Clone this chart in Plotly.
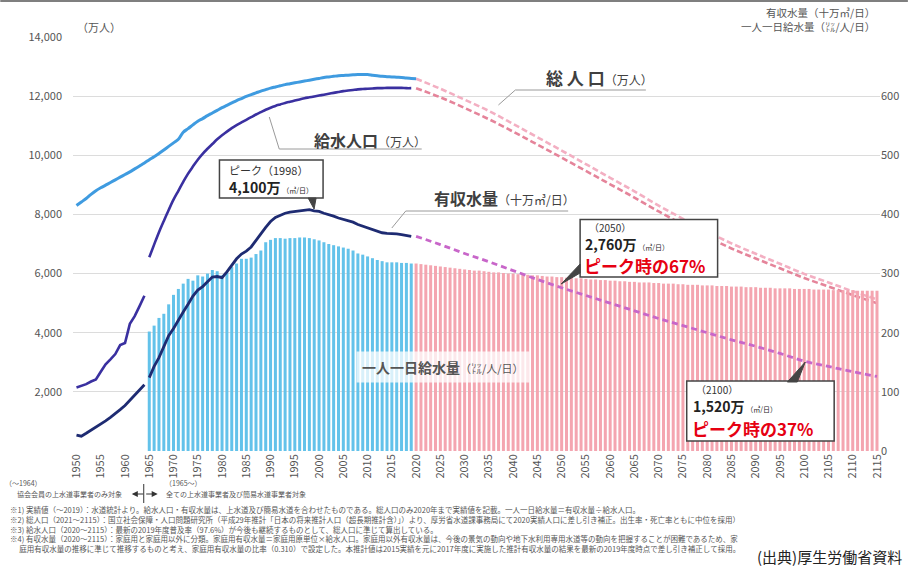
import plotly.graph_objects as go

# ---------------- data ----------------
years_pre = list(range(1950, 1965))
supply_pop_pre = [2150, 2200, 2260, 2350, 2420, 2680, 2930, 3100, 3280, 3580,
                  3650, 4300, 4560, 4900, 5250]
revenue_water_pre = [27, 25, 30, 35, 41, 46, 51, 57, 63, 70,
                     77, 86, 95, 103, 112]

years_total_actual = list(range(1950, 2021))
total_pop_actual = [8300, 8420, 8540, 8680, 8800, 8900, 8990, 9080, 9170, 9260,
                    9350, 9440, 9540, 9640, 9740, 9850, 9950, 10060, 10180, 10300,
                    10420, 10540, 10780, 10900, 11030, 11150, 11240, 11340, 11430, 11520,
                    11610, 11690, 11770, 11850, 11920, 11990, 12050, 12110, 12170, 12220,
                    12270, 12310, 12350, 12390, 12420, 12450, 12480, 12510, 12540, 12570,
                    12600, 12630, 12650, 12670, 12690, 12700, 12710, 12720, 12730, 12730,
                    12730, 12710, 12690, 12670, 12660, 12650, 12640, 12630, 12610, 12600,
                    12590]

years_actual = list(range(1965, 2020))
supply_pop_actual = [6550, 6980, 7400, 7780, 8150, 8500, 8800, 9100, 9380, 9620,
                     9850, 10050, 10220, 10380, 10540, 10680, 10800, 10920, 11020, 11110,
                     11200, 11290, 11380, 11460, 11540, 11610, 11670, 11720, 11770, 11810,
                     11850, 11890, 11930, 11960, 11990, 12020, 12050, 12080, 12110, 12140,
                     12170, 12190, 12210, 12230, 12240, 12250, 12260, 12270, 12270, 12280,
                     12280, 12280, 12280, 12270, 12270]
revenue_water_actual = [124, 143, 158, 178, 195, 207, 222, 235, 248, 262,
                        272, 278, 286, 294, 295, 293, 303, 315, 325, 333,
                        338, 345, 355, 367, 378, 388, 395, 399, 402, 404,
                        405, 406, 407, 408, 406, 405, 402, 400, 397, 394,
                        392, 390, 387, 383, 380, 377, 374, 371, 369, 368,
                        368, 367, 366, 364, 363]
per_capita_actual = [202, 212, 225, 232, 248, 264, 274, 283, 291, 288,
                     297, 295, 300, 306, 304, 297, 302, 311, 317, 325,
                     325, 327, 333, 339, 353, 357, 360, 360, 359, 360,
                     360, 361, 361, 360, 358, 356, 353, 350, 348, 346,
                     344, 342, 339, 334, 332, 329, 326, 323, 321, 319,
                     319, 319, 318, 318, 317]

years_proj = list(range(2020, 2116, 5))
total_pop_proj = [12590, 12250, 11880, 11500, 11060, 10610, 10160, 9700, 9240, 8780,
                  8300, 7850, 7420, 7020, 6670, 6330, 5990, 5700, 5400, 5130]
supply_pop_proj = [12270, 11960, 11600, 11220, 10800, 10360, 9920, 9470, 9020, 8570,
                   8100, 7660, 7240, 6850, 6510, 6180, 5850, 5560, 5270, 5000]
revenue_water_proj = [363, 349, 334, 320, 305, 290, 276, 263, 250, 237,
                      224, 212, 200, 188, 177, 165, 152, 143, 134, 126]

years_bar_proj = list(range(2020, 2116))
per_capita_proj = [317, 316, 315, 314, 313, 312, 311, 310, 309, 308,
                   307, 306, 305, 305, 304, 303, 302, 302, 301, 300,
                   300, 299, 298, 298, 297, 297, 296, 295, 295, 294,
                   294, 293, 293, 292, 292, 291, 290, 290, 289, 289,
                   288, 288, 287, 287, 286, 286, 285, 285, 285, 284,
                   284, 283, 283, 283, 282, 282, 281, 281, 281, 280,
                   280, 280, 279, 279, 279, 278, 278, 278, 277, 277,
                   277, 276, 276, 276, 275, 275, 275, 275, 274, 274,
                   274, 274, 273, 273, 273, 273, 272, 272, 272, 272,
                   272, 271, 271, 271, 271, 271]

left_ticks = [2000, 4000, 6000, 8000, 10000, 12000, 14000]
left_ticktext = ["2,000", "4,000", "6,000", "8,000", "10,000", "12,000", "14,000"]
right_ticks = [0, 100, 200, 300, 400, 500, 600]
x_ticks = list(range(1950, 2116, 5))

# ---------------- figure ----------------
FONT = "Noto Sans CJK JP, Noto Sans, sans-serif"
W, H = 911, 568
L, R, T, B = 73, 883, 37, 451


def px(x):
    return (x - L) / (R - L)


def py(y):
    return (B - y) / (B - T)


fig = go.Figure()

fig.add_trace(go.Bar(x=years_actual, y=per_capita_actual, yaxis="y2",
                     marker=dict(color="#63c2ea", line=dict(width=0)), width=0.62))
fig.add_trace(go.Bar(x=years_bar_proj, y=per_capita_proj, yaxis="y2",
                     marker=dict(color="#f4a5b0", line=dict(width=0)), width=0.62))

# projections
fig.add_trace(go.Scatter(x=years_proj, y=total_pop_proj, mode="lines",
                         line=dict(color="#f3afc2", width=2.6, dash="6px,3px", shape="spline")))
fig.add_trace(go.Scatter(x=years_proj, y=supply_pop_proj, mode="lines",
                         line=dict(color="#e5849a", width=2.6, dash="6px,3px", shape="spline")))
fig.add_trace(go.Scatter(x=years_proj, y=revenue_water_proj, mode="lines", yaxis="y2",
                         line=dict(color="#c866c9", width=2.8, dash="6px,4px", shape="spline")))

# actuals
fig.add_trace(go.Scatter(x=years_total_actual, y=total_pop_actual, mode="lines",
                         line=dict(color="#3f9be0", width=3, shape="spline")))
fig.add_trace(go.Scatter(x=years_pre, y=supply_pop_pre, mode="lines",
                         line=dict(color="#3a30a0", width=2.6)))
fig.add_trace(go.Scatter(x=years_actual, y=supply_pop_actual, mode="lines",
                         line=dict(color="#3a30a0", width=2.6, shape="spline")))
fig.add_trace(go.Scatter(x=years_pre, y=revenue_water_pre, mode="lines", yaxis="y2",
                         line=dict(color="#1e2b72", width=2.8)))
fig.add_trace(go.Scatter(x=years_actual, y=revenue_water_actual, mode="lines", yaxis="y2",
                         line=dict(color="#1e2b72", width=2.8)))

fig.update_layout(
    width=W, height=H,
    margin=dict(l=L, r=W - R, t=T, b=H - B),
    plot_bgcolor="white", paper_bgcolor="white",
    showlegend=False, barmode="overlay",
    font=dict(family=FONT, color="#555555", size=11),
    xaxis=dict(range=[1949.28, 2115.62], tickvals=x_ticks, tickangle=-90,
               showgrid=False, zeroline=False, showline=False, ticks="",
               tickfont=dict(size=11, color="#555555")),
    yaxis=dict(range=[0, 14000], tickvals=left_ticks, ticktext=left_ticktext,
               showgrid=True, gridcolor="#dcdcdc", gridwidth=1, zeroline=False,
               showline=False, ticks="", ticklabelstandoff=10,
               tickfont=dict(size=11, color="#555555")),
    yaxis2=dict(range=[0, 700], tickvals=right_ticks, overlaying="y", side="right",
                showgrid=False, zeroline=False, showline=False, ticks="",
                tickfont=dict(size=11, color="#555555")),
)

shapes = []
ann = []


def text(x, y, t, size, color="#404040", xanchor="left", yanchor="middle", **kw):
    d = dict(xref="paper", yref="paper", x=px(x), y=py(y), text=t, showarrow=False,
             xanchor=xanchor, yanchor=yanchor, font=dict(size=size, color=color, family=FONT))
    d.update(kw)
    ann.append(d)


def line(x0, y0, x1, y1, color="#9a9a9a", width=1):
    shapes.append(dict(type="line", xref="paper", yref="paper",
                       x0=px(x0), y0=py(y0), x1=px(x1), y1=py(y1),
                       line=dict(color=color, width=width)))


def wedge(pts, color="#444444"):
    path = "M " + " L ".join(f"{px(a)},{py(b)}" for a, b in pts) + " Z"
    shapes.append(dict(type="path", xref="paper", yref="paper", path=path,
                       fillcolor=color, line=dict(color=color, width=1)))


def box(x0, y0, x1, y1):
    shapes.append(dict(type="rect", xref="paper", yref="paper",
                       x0=px(x0), y0=py(y1), x1=px(x1), y1=py(y0),
                       fillcolor="white", line=dict(color="#444444", width=1.5)))


# top border
line(0, 1, 911, 1, color="#555555", width=1.5)

# axis unit titles
text(75, 27, "（万人）", 11, "#555555")
text(880, 19.5, "有収水量（十万㎥/日）<br>一人一日給水量（㍑/人/日）", 10.5, "#555555",
     xanchor="right", align="right")

# series labels with leader lines
text(546, 77, "<b>総 人 口</b><span style='font-size:12px'>（万人）</span>", 17)
line(517, 90, 648, 90)
line(517, 90, 500, 105)

text(313, 140, "<b>給水人口</b><span style='font-size:12px'>（万人）</span>", 16)
line(280, 149, 423, 149)
line(280, 149, 270, 117)

text(433, 198, "<b>有収水量</b><span style='font-size:12px'>（十万㎥/日）</span>", 16)
line(407, 211, 570, 211)
line(407, 211, 393, 228)

text(357, 367, "<b>一人一日給水量</b><span style='font-size:11px'>（㍑/人/日）</span>", 14,
     "#555555", bgcolor="rgba(255,255,255,0.75)", borderpad=5)

# callouts
UNIT = "<span style='font-size:7px'> （㎥/日）</span>"
box(220, 160, 324, 198)
wedge([(309, 198), (317, 198), (315, 209)])
text(228, 169.5, "ピーク（1998）", 11, "#333333")
text(228, 187.5, "<b>4,100万</b>" + UNIT, 14, "#222222")

box(582, 219.5, 720, 277)
wedge([(582, 264), (582, 273), (563, 284)])
text(589, 227, "（2050）", 10, "#333333")
text(585, 243.5, "<b>2,760万</b>" + UNIT, 14, "#222222")
text(584, 265.5, "<b>ピーク時の67%</b>", 17, "#e60012")

box(689, 381, 837, 441)
wedge([(790, 382), (800, 382), (808, 362)])
text(696, 389.5, "（2100）", 10, "#333333")
text(693, 405.5, "<b>1,520万</b>" + UNIT, 14, "#222222")
text(692, 428.5, "<b>ピーク時の37%</b>", 17, "#e60012")

# bottom notes
text(3, 483, "（～1964）", 7, "#555555")
text(15, 494, "協会会員の上水道事業者のみ対象", 7, "#555555")
text(163, 483, "（1965～）", 7, "#555555")
text(164, 494, "全ての上水道事業者及び簡易水道事業者対象", 7, "#555555")
line(144, 484, 144, 503, color="#333333", width=1)
for hx, off in ((132, 13), (158, -13)):
    ann.append(dict(xref="paper", yref="paper",
                    x=px(hx), y=py(494), ax=off, ay=0, text="",
                    showarrow=True, arrowhead=2, arrowsize=1, arrowwidth=1.2,
                    arrowcolor="#333333"))

notes = [
    "※1) 実績値（～2019）：水道統計より。給水人口・有収水量は、上水道及び簡易水道を合わせたものである。総人口のみ2020年まで実績値を記載。一人一日給水量＝有収水量÷給水人口。",
    "※2) 総人口（2021～2115）：国立社会保障・人口問題研究所（平成29年推計「日本の将来推計人口（超長期推計含）」）より、厚労省水道課事務局にて2020実績人口に差し引き補正。出生率・死亡率ともに中位を採用）",
    "※3) 給水人口（2020～2115）：最新の2019年度普及率（97.6%）が今後も継続するものとして、総人口に準じて算出している。",
    "※4) 有収水量（2020～2115）：家庭用と家庭用以外に分類。家庭用有収水量＝家庭用原単位×給水人口。家庭用以外有収水量は、今後の景気の動向や地下水利用専用水道等の動向を把握することが困難であるため、家",
    "　 庭用有収水量の推移に準じて推移するものと考え、家庭用有収水量の比率（0.310）で設定した。本推計値は2015実績を元に2017年度に実施した推計有収水量の結果を最新の2019年度時点で差し引き補正して採用。",
]
text(8, 529, "<br>".join(notes), 7.5, "#555555", align="left")

text(907, 556, "(出典)厚生労働省資料", 15, "#222222", xanchor="right")

fig.update_layout(shapes=shapes, annotations=ann)

fig.write_html("out.html", config={"displayModeBar": False},
               post_script="document.body.style.margin='0';")
